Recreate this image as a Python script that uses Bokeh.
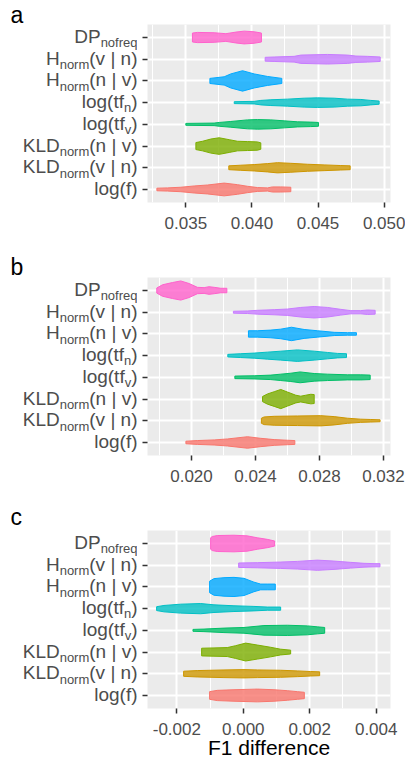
from bokeh.plotting import figure
from bokeh.layouts import column, row
from bokeh.models import Range1d, FixedTicker, NumeralTickFormatter, ColumnDataSource
from bokeh.core.properties import value
from bokeh.embed import file_html
from bokeh.resources import INLINE

# ---------------- data ----------------
# categories from top to bottom; label parts: (text, is_subscript)
CATEGORIES = ["DP_nofreq", "H_norm(v | n)", "H_norm(n | v)", "log(tf_n)",
              "log(tf_v)", "KLD_norm(n | v)", "KLD_norm(v | n)", "log(f)"]
LABEL_PARTS = [
    [("DP", False), ("nofreq", True)],
    [("H", False), ("norm", True), ("(v | n)", False)],
    [("H", False), ("norm", True), ("(n | v)", False)],
    [("log(tf", False), ("n", True), (")", False)],
    [("log(tf", False), ("v", True), (")", False)],
    [("KLD", False), ("norm", True), ("(n | v)", False)],
    [("KLD", False), ("norm", True), ("(v | n)", False)],
    [("log(f)", False)],
]
COLORS = ["#FF61CC", "#C77CFF", "#00A9FF", "#00BFC4",
          "#00BE67", "#7CAE00", "#CD9600", "#F8766D"]
PANEL_LETTERS = ["a", "b", "c"]
X_TITLE = "F1 difference"

# Panel a: x positions and relative violin widths (density) per category
A_X = [
    [0.03550, 0.03588, 0.03714, 0.03803, 0.03878, 0.03941, 0.04017, 0.04072],
    [0.04100, 0.04168, 0.04319, 0.04370, 0.04571, 0.04723, 0.04786, 0.04874, 0.04970],
    [0.03682, 0.03790, 0.03840, 0.03929, 0.04017, 0.04118, 0.04226],
    [0.03866, 0.04017, 0.04067, 0.04143, 0.04269, 0.04395, 0.04496, 0.04622, 0.04723, 0.04824, 0.04899, 0.04962],
    [0.03500, 0.03714, 0.03752, 0.03840, 0.03966, 0.04042, 0.04143, 0.04244, 0.04345, 0.04445, 0.04503],
    [0.03576, 0.03626, 0.03689, 0.03752, 0.03828, 0.03891, 0.03966, 0.04042, 0.04067],
    [0.03825, 0.03916, 0.04017, 0.04118, 0.04193, 0.04294, 0.04420, 0.04546, 0.04672, 0.04743],
    [0.03281, 0.03361, 0.03462, 0.03563, 0.03664, 0.03790, 0.03891, 0.03966, 0.04042, 0.04118, 0.04155, 0.04218, 0.04294],
]
A_W = [
    [14, 16, 15, 12, 17, 20, 18, 14],
    [6, 7, 9, 13, 15, 13, 10, 9, 7],
    [8, 13, 22, 32, 22, 14, 8],
    [3, 4, 7, 9, 11, 14, 15, 14, 11, 10, 7, 5],
    [3, 4, 6, 9, 14, 15, 14, 11, 8, 7, 6],
    [11, 15, 22, 26, 20, 15, 14, 13, 10],
    [6, 8, 10, 13, 16, 14, 11, 9, 7, 6],
    [4, 5, 7, 11, 14, 20, 15, 10, 6, 5, 8, 8, 7],
]
A_TICKS = [0.035, 0.040, 0.045, 0.050]
A_MINOR = [0.0325, 0.0375, 0.0425, 0.0475]
A_RANGE = (0.03210, 0.05048)

# Panel b
B_X = [
    [0.01783, 0.01819, 0.01881, 0.01933, 0.01985, 0.02037, 0.02079, 0.02110, 0.02142, 0.02183, 0.02221],
    [0.02262, 0.02350, 0.02412, 0.02517, 0.02600, 0.02683, 0.02767, 0.02850, 0.02933, 0.02996, 0.03058, 0.03100, 0.03148],
    [0.02356, 0.02412, 0.02496, 0.02558, 0.02625, 0.02704, 0.02787, 0.02892, 0.02975, 0.03031],
    [0.02227, 0.02308, 0.02392, 0.02475, 0.02558, 0.02662, 0.02767, 0.02850, 0.02912, 0.02969],
    [0.02271, 0.02392, 0.02496, 0.02558, 0.02621, 0.02679, 0.02767, 0.02850, 0.02975, 0.03058, 0.03117],
    [0.02444, 0.02475, 0.02517, 0.02558, 0.02600, 0.02652, 0.02683, 0.02714, 0.02746, 0.02767],
    [0.02437, 0.02454, 0.02517, 0.02662, 0.02808, 0.02892, 0.02975, 0.03058, 0.03121, 0.03179],
    [0.01965, 0.02037, 0.02142, 0.02225, 0.02350, 0.02433, 0.02517, 0.02600, 0.02646],
]
B_W = [
    [8, 18, 25, 30, 22, 10, 9, 12, 10, 7, 7],
    [3, 4, 6, 8, 10, 15, 18, 15, 9, 5, 5, 7, 6],
    [10, 10, 12, 15, 21, 14, 10, 5, 4, 4],
    [4, 6, 8, 11, 14, 18, 14, 10, 7, 6],
    [4, 5, 7, 10, 13, 17, 12, 10, 8, 8, 7],
    [8, 16, 23, 30, 22, 12, 9, 12, 15, 14],
    [8, 12, 14, 15, 16, 13, 8, 5, 4, 3],
    [4, 6, 8, 11, 18, 13, 9, 7, 6],
]
B_TICKS = [0.020, 0.024, 0.028, 0.032]
B_MINOR = [0.018, 0.022, 0.026, 0.030]
B_RANGE = (0.01725, 0.03244)

# Panel c
C_X = [
    [-0.000983, -0.000933, -0.000783, -0.000281, 0.000120, 0.000421, 0.000723, 0.000943],
    [-0.000140, 0.000421, 0.001124, 0.001626, 0.002228, 0.002730, 0.003231, 0.003633, 0.003934, 0.004114],
    [-0.001014, -0.000883, -0.000582, -0.000281, 0.000020, 0.000321, 0.000522, 0.000723, 0.000963],
    [-0.002609, -0.002388, -0.001887, -0.001284, -0.000883, -0.000281, 0.000321, 0.000723, 0.001124],
    [-0.001515, -0.001184, -0.000582, 0.000020, 0.000622, 0.001325, 0.001927, 0.002228, 0.002449],
    [-0.001254, -0.000883, -0.000482, -0.000231, 0.000070, 0.000421, 0.000823, 0.001124, 0.001425],
    [-0.001796, -0.001385, -0.000582, 0.000020, 0.000421, 0.001124, 0.001626, 0.002027, 0.002298],
    [-0.001014, -0.000783, -0.000281, 0.000421, 0.000923, 0.001325, 0.001626, 0.001837],
]
C_W = [
    [18, 22, 25, 26, 24, 18, 13, 8],
    [7, 8, 10, 12, 16, 13, 9, 6, 5, 5],
    [18, 26, 29, 30, 27, 15, 9, 9, 9],
    [6, 10, 14, 16, 12, 9, 7, 5, 5],
    [3, 4, 7, 9, 15, 16, 14, 11, 9],
    [12, 13, 14, 20, 28, 22, 15, 9, 6],
    [8, 10, 12, 13, 12, 11, 9, 7, 6],
    [12, 16, 18, 20, 18, 15, 12, 10],
]
C_TICKS = [-0.002, 0.000, 0.002, 0.004]
C_MINOR = [-0.003, -0.001, 0.001, 0.003]
C_RANGE = (-0.002883, 0.004430)

# ---------------- styling / layout ----------------
FONT = "Liberation Sans"
MAIN_PX = 19
SUB_PX = 13
LETTER_PX = 23
DESCENT = 0.212        # font descent as a fraction of the em
WIDTH_SCALE = 1.0 / 68.0
PAGE_W, PAGE_H = 405, 763
LABEL_W = 137          # width of the label strip left of the panels
MAIN_W = PAGE_W - LABEL_W
FRAME_H = 178
N = len(CATEGORIES)
Y0, Y1 = 0.4, N + 0.6
PX_PER_UNIT = FRAME_H / (Y1 - Y0)

# Arial / Liberation Sans advance widths (1/1000 em)
ADV = {'D': 722, 'P': 667, 'H': 722, 'K': 667, 'L': 556, 'n': 556, 'o': 556,
       'f': 278, 'r': 333, 'e': 556, 'q': 556, 'm': 833, '(': 333, ')': 333,
       'v': 500, ' ': 278, '|': 260, 'l': 222, 'g': 556, 't': 278}


def text_w(s, size):
    return sum(ADV.get(ch, 556) for ch in s) / 1000.0 * size


def make_panel(xs_list, ws_list, xr, ticks, minor, height, top, bottom, title=None):
    p = figure(width=MAIN_W, height=height, x_range=Range1d(*xr),
               y_range=Range1d(Y0, Y1), output_backend="svg",
               toolbar_location=None, min_border_left=10, min_border_right=15,
               min_border_top=top, min_border_bottom=bottom)
    p.background_fill_color = "#EBEBEB"
    p.border_fill_color = "white"
    p.outline_line_color = None

    xa = p.xaxis[0]
    xa.ticker = FixedTicker(ticks=ticks, minor_ticks=minor)
    xa.formatter = NumeralTickFormatter(format="0.000")
    xa.axis_line_color = None
    xa.major_tick_in = 0
    xa.major_tick_out = 5
    xa.major_tick_line_color = "#333333"
    xa.major_tick_line_width = 1.5
    xa.minor_tick_line_color = None
    xa.major_label_text_font = FONT
    xa.major_label_text_font_size = "17px"
    xa.major_label_text_color = "#4D4D4D"
    xa.major_label_standoff = 9
    if title:
        xa.axis_label = title
        xa.axis_label_text_font = FONT
        xa.axis_label_text_font_size = "21px"
        xa.axis_label_text_font_style = "normal"
        xa.axis_label_text_color = "black"
        xa.axis_label_standoff = -2

    ya = p.yaxis[0]
    ya.ticker = FixedTicker(ticks=list(range(1, N + 1)))
    ya.major_label_overrides = {i: "" for i in range(1, N + 1)}
    ya.major_label_text_font_size = "0px"
    ya.major_label_standoff = 0
    ya.axis_line_color = None
    ya.major_tick_in = 0
    ya.major_tick_out = 5
    ya.major_tick_line_color = "#333333"
    ya.major_tick_line_width = 1.5
    ya.minor_tick_line_color = None

    p.xgrid.grid_line_color = "white"
    p.xgrid.grid_line_width = 2
    p.xgrid.minor_grid_line_color = "white"
    p.xgrid.minor_grid_line_width = 1
    p.ygrid.grid_line_color = "white"
    p.ygrid.grid_line_width = 2

    for i in range(N):
        y0 = N - i
        xs = xs_list[i]
        ws = ws_list[i]
        px = list(xs) + list(reversed(xs))
        py = [y0 + w * WIDTH_SCALE for w in ws] + [y0 - w * WIDTH_SCALE for w in reversed(ws)]
        p.patch(px, py, fill_color=COLORS[i], fill_alpha=0.8,
                line_color=COLORS[i], line_width=1)
    return p


# (xs, widths, range, ticks, minor, panel height, top border, bottom border, title,
#  letter baseline above frame top)
specs = [
    (A_X, A_W, A_RANGE, A_TICKS, A_MINOR, 261, 24, 59, None, 1),
    (B_X, B_W, B_RANGE, B_TICKS, B_MINOR, 253, 16, 59, None, 2),
    (C_X, C_W, C_RANGE, C_TICKS, C_MINOR, 249, 16, 55, X_TITLE, 5),
]

# label strip: one figure covering the full height, y measured in page pixels
lab = figure(width=LABEL_W, height=PAGE_H, x_range=Range1d(0, LABEL_W),
             y_range=Range1d(PAGE_H, 0), x_axis_type=None, y_axis_type=None,
             output_backend="svg", toolbar_location=None, min_border=0)
lab.outline_line_color = None
lab.background_fill_color = "white"
lab.border_fill_color = "white"
for g in lab.grid:
    g.visible = False

main = dict(x=[], y=[], text=[])
sub = dict(x=[], y=[], text=[])
letters = dict(x=[], y=[], text=[])
panels = []
page_top = 0
for j, (xs, ws, xr, tk, mn, h, top, bot, ttl, lbase) in enumerate(specs):
    panels.append(make_panel(xs, ws, xr, tk, mn, h, top, bot, ttl))
    frame_top = page_top + top
    letters["x"].append(10)
    letters["y"].append(frame_top - lbase + DESCENT * LETTER_PX)
    letters["text"].append(PANEL_LETTERS[j])
    for i in range(N):
        yc = N - i
        tick_y = frame_top + (Y1 - yc) * PX_PER_UNIT
        cursor = LABEL_W
        for text, is_sub in reversed(LABEL_PARTS[i]):
            size = SUB_PX if is_sub else MAIN_PX
            d = sub if is_sub else main
            base_drop = 10.0 if is_sub else 5.5   # baseline below tick, px
            d["x"].append(cursor)
            d["y"].append(tick_y + base_drop + DESCENT * size)
            d["text"].append(text)
            cursor -= text_w(text, size)
    page_top += h

lab.text(x="x", y="y", text="text", source=ColumnDataSource(main),
         text_align="right", text_baseline="bottom",
         text_font=value(FONT), text_font_size=f"{MAIN_PX}px", text_color="#4D4D4D")
lab.text(x="x", y="y", text="text", source=ColumnDataSource(sub),
         text_align="right", text_baseline="bottom",
         text_font=value(FONT), text_font_size=f"{SUB_PX}px", text_color="#4D4D4D")
lab.text(x="x", y="y", text="text", source=ColumnDataSource(letters),
         text_align="left", text_baseline="bottom",
         text_font=value(FONT), text_font_size=f"{LETTER_PX}px", text_color="black")

layout = row(lab, column(*panels, spacing=0), spacing=0)
open("out.html", "w").write(file_html(layout, INLINE))
